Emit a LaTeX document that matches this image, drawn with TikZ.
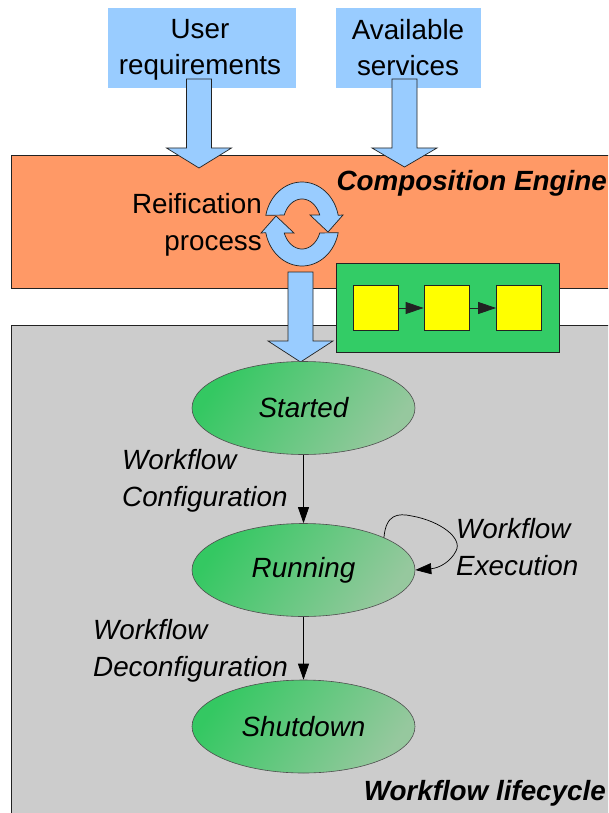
\documentclass[tikz,border=0pt]{standalone}
\usepackage{fontspec}
\setmainfont{Liberation Sans}
\usetikzlibrary{arrows.meta,shapes.geometric}

\definecolor{reqblue}{HTML}{99CCFF}
\definecolor{enginebg}{HTML}{FF9966}
\definecolor{lifebg}{HTML}{CCCCCC}
\definecolor{chaingreen}{HTML}{33CC66}
\definecolor{taskyellow}{HTML}{FFFF00}
\definecolor{stateA}{RGB}{52,200,98}
\definecolor{stateB}{RGB}{150,200,158}
\definecolor{edge}{HTML}{222222}

% block arrow: centre x, shaft top, head base, tip
\newcommand\fatarrow[4]{%
  \draw[fatarrowstyle] ({#1-12.5},#2) -- ({#1+12.5},#2) -- ({#1+12.5},#3)
    -- ({#1+32.5},#3) -- (#1,#4) -- ({#1-32.5},#3) -- ({#1-12.5},#3) -- cycle;}

\begin{document}
\begin{tikzpicture}[x=1pt,y=-1pt,
  txt/.style={font=\fontsize{27.8}{36.5}\selectfont, inner sep=0pt},
  itl/.style={txt, font=\fontsize{27.8}{36.5}\selectfont\itshape},
  bfit/.style={txt, font=\fontsize{27.8}{36.5}\selectfont\bfseries\itshape},
  panel/.style={draw=edge, line width=0.9pt},
  reqbox/.style={fill=reqblue, inner sep=0pt},
  fatarrowstyle/.style={fill=reqblue, draw=edge, line width=0.7pt, line join=miter},
  cyc/.style={fill=reqblue, draw=edge, line width=0.7pt},
  task/.style={draw=edge, line width=0.8pt, fill=taskyellow, minimum size=45pt, inner sep=0pt},
  state/.style={ellipse, itl, draw=edge!80, line width=0.6pt,
     left color=stateA, right color=stateB, shading angle=55,
     minimum width=223pt, minimum height=93pt},
  flow/.style={draw=black, line width=0.7pt, -{Triangle[length=16pt,width=11pt]}},
  small/.style={draw=edge, line width=0.8pt, -{Triangle[length=18pt,width=12pt]}}
]
\useasboundingbox (0,0) rectangle (608,813);
\clip (0,0) rectangle (608,813);

% the two layers
\draw[panel, fill=lifebg] (11,325) rectangle (640,850);
\draw[panel, fill=enginebg] (11,155) rectangle (640,288);

% inputs of the composition engine
\node[reqbox, minimum width=188pt, minimum height=80pt] (ureq) at (202,48) {};
\node[reqbox, minimum width=145pt, minimum height=80pt] (serv) at (408.5,48) {};
\node[txt, align=center, anchor=base] (ureqtxt) at (200,75) {User\\requirements};
\node[txt, align=center, anchor=base] (servtxt) at (408,76) {Available\\services};
\fatarrow{199}{79}{148}{168}
\fatarrow{404.5}{79}{148}{167}

\node[bfit, anchor=base east] (engine) at (607,190) {Composition Engine};
% multi-line nodes: base anchor sits on the last line
\node[txt, align=right, anchor=base east] (reif) at (262,250) {Reification\\process};

% reification cycle
\draw[cyc] plot[domain=192:348, samples=40] ({302+37*cos(\x)},{224+42*sin(\x)})
  -- (343,215) -- (328,232) -- (310,215)
  -- plot[domain=339:201, samples=40] ({302+19*cos(\x)},{224+25*sin(\x)}) -- cycle;
\draw[cyc] plot[domain=12:168, samples=40] ({302+37*cos(\x)},{224+42*sin(\x)})
  -- (261,233) -- (276,216) -- (294,233)
  -- plot[domain=159:21, samples=40] ({302+19*cos(\x)},{224+25*sin(\x)}) -- cycle;

\fatarrow{300.5}{272}{341}{362}

% generated workflow
\node[draw=edge, line width=0.9pt, fill=chaingreen, minimum width=223pt, minimum height=89pt, inner sep=0pt] (wf) at (447.5,307.5) {};
\node[task] (t1) at (375.5,308) {};
\node[task] (t2) at (446.5,308) {};
\node[task] (t3) at (519,308) {};
\draw[small] (t1) -- (t2);
\draw[small] (t2) -- (t3);

% lifecycle states
\node[state] (started) at (303.5,408) {Started};
\node[state] (running) at (303.5,570) {Running};
\node[state] (shutdown) at (303.5,726.5) {Shutdown};

\draw[flow] (started) -- (running);
\draw[flow] (running) -- (shutdown);
\draw[flow] (running.22) .. controls (386,514) and (398,513) .. (412,516)
  .. controls (440,521) and (463,538) .. (456,551)
  .. controls (451,561) and (440,568) .. (running.east);

\node[itl, align=left, anchor=base west] (cfg) at (122,506) {Workflow\\Configuration};
\node[itl, align=left, anchor=base west] (exe) at (456,575) {Workflow\\Execution};
\node[itl, align=left, anchor=base west] (dcfg) at (93,676) {Workflow\\Deconfiguration};

\node[bfit, anchor=base east] (life) at (606,800) {Workflow lifecycle};
\end{tikzpicture}
\end{document}
